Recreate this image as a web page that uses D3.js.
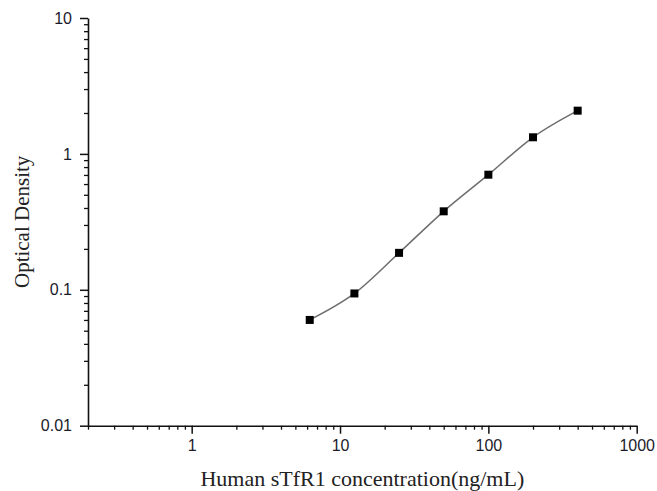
<!DOCTYPE html>
<html>
<head>
<meta charset="utf-8">
<script src="https://cdn.jsdelivr.net/npm/d3@7"></script>
<style>
  body { margin: 0; background: #fff; }
  .tick text { font-family: "Liberation Sans", Arial, sans-serif; }
</style>
</head>
<body>
<script>
// standard curve data
var concentration = [6.25, 12.5, 25, 50, 100, 200, 400];
var od = [0.060, 0.094, 0.187, 0.378, 0.703, 1.325, 2.08];

var xMajor = [1, 10, 100, 1000];
var yMajor = [0.01, 0.1, 1, 10];
var xLabels = ["1", "10", "100", "1000"];
var yLabels = ["0.01", "0.1", "1", "10"];

var w = 657;
var h = 491;

const margin = {top: 18, right: 20, bottom: 65, left: 88};
const width = 636.7 - margin.left,
    height = 425.7 - margin.top;

const svg = d3.select("body").append("svg")
    .attr("width", w)
    .attr("height", h);

const g = svg.append("g")
    .attr("transform", "translate(" + margin.left + "," + margin.top + ")");

var data = concentration.map(function(c, i) { return {x: c, y: od[i]}; });

// log scales
var x = d3.scaleLog().domain([0.2, 1000]).range([0, width]);
var y = d3.scaleLog().domain([0.01, 10]).range([height, 0]);

// minor tick values
function minors(lo, hi) {
    var out = [];
    for (var e = Math.floor(Math.log10(lo)); e < Math.log10(hi); e++) {
        for (var k = 1; k < 10; k++) {
            var v = k * Math.pow(10, e);
            if (v >= lo && v <= hi && k != 1) out.push(v);
        }
    }
    return out;
}

// x axis
g.append("g")
    .attr("transform", "translate(0," + height + ")")
    .call(d3.axisBottom(x).tickValues(minors(0.2, 1000)).tickSize(4).tickFormat(""))
    .call(function(a) { a.select(".domain").remove(); })
    .selectAll("line").attr("stroke", "#111").attr("stroke-width", 1.3);

var xa = g.append("g")
    .attr("transform", "translate(0," + height + ")")
    .call(d3.axisBottom(x).tickValues(xMajor).tickSize(8).tickPadding(6)
        .tickFormat(function(d, i) { return xLabels[i]; }).tickSizeOuter(0));
xa.select(".domain").attr("stroke", "#111").attr("stroke-width", 1.6);
xa.selectAll("line").attr("stroke", "#111").attr("stroke-width", 1.5);
xa.selectAll("text").style("font-size", "16px").attr("fill", "#1b1b2b");

// y axis
g.append("g")
    .call(d3.axisLeft(y).tickValues(minors(0.01, 10)).tickSize(4).tickFormat(""))
    .call(function(a) { a.select(".domain").remove(); })
    .selectAll("line").attr("stroke", "#111").attr("stroke-width", 1.3);

var ya = g.append("g")
    .call(d3.axisLeft(y).tickValues(yMajor).tickSize(8).tickPadding(8)
        .tickFormat(function(d, i) { return yLabels[i]; }).tickSizeOuter(0));
ya.select(".domain").attr("stroke", "#111").attr("stroke-width", 1.6);
ya.selectAll("line").attr("stroke", "#111").attr("stroke-width", 1.5);
ya.selectAll("text").style("font-size", "16px").attr("fill", "#1b1b2b");

// fitted curve
var line = d3.line()
    .x(function(d) { return x(d.x); })
    .y(function(d) { return y(d.y); })
    .curve(d3.curveMonotoneX);

g.append("path")
    .datum(data)
    .attr("d", line)
    .attr("fill", "none")
    .attr("stroke", "#6e6e6e")
    .attr("stroke-width", 1.5);

// square markers
var s = 8;
g.selectAll(".pt")
    .data(data)
    .enter().append("rect")
    .attr("class", "pt")
    .attr("x", function(d) { return x(d.x) - s / 2; })
    .attr("y", function(d) { return y(d.y) - s / 2; })
    .attr("width", s)
    .attr("height", s)
    .attr("fill", "#000");

// axis titles
svg.append("text")
    .attr("x", margin.left + width / 2)
    .attr("y", 486)
    .attr("text-anchor", "middle")
    .style("font-family", "'Liberation Serif', 'Times New Roman', serif")
    .style("font-size", "22px")
    .attr("fill", "#222")
    .text("Human sTfR1 concentration(ng/mL)");

svg.append("text")
    .attr("transform", "translate(29," + (margin.top + height / 2) + ") rotate(-90)")
    .attr("text-anchor", "middle")
    .style("font-family", "'Liberation Serif', 'Times New Roman', serif")
    .style("font-size", "21px")
    .attr("fill", "#222")
    .text("Optical Density");
</script>
</body>
</html>
